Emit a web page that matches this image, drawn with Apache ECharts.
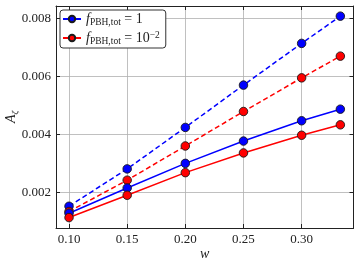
<!DOCTYPE html>
<html><head><meta charset="utf-8">
<script src="https://cdn.jsdelivr.net/npm/echarts@6/dist/echarts.min.js"></script>
<style>html,body{margin:0;padding:0;background:#fff}#c{width:360px;height:266px}</style>
</head><body><div id="c"></div>
<script>
const wValues = [0.10, 0.15, 0.20, 0.25, 0.30, 0.3333];
const blueDashed = [0.00152, 0.00281, 0.00424, 0.00570, 0.00714, 0.00808];
const redDashed  = [0.00134, 0.00242, 0.00360, 0.00479, 0.00595, 0.00670];
const blueSolid  = [0.00128, 0.00215, 0.00300, 0.00377, 0.00447, 0.00487];
const redSolid   = [0.00113, 0.00190, 0.00268, 0.00336, 0.00397, 0.00433];
const legendNames = ['f1', 'f2'];
const legendLabels = {
  f1: '{i|f}{sub|PBH,tot}{t| = 1}',
  f2: '{i|f}{sub|PBH,tot}{t| = 10}{sup|−2}'
};
const xLabel = 'w';

const FONT = 'Liberation Serif';
const BLUE = '#0000ff', RED = '#ff0000', EDGE = '#1a1a1a';
const pairs = arr => arr.map((v, i) => [wValues[i], v]);
const XMIN = 0.0888, XMAX = 0.3446, YMIN = 0.00077, YMAX = 0.00843;

function mk(name, data, color, dashed) {
  return {
    name, type: 'line', data: pairs(data), symbol: 'circle', symbolSize: 8.5,
    lineStyle: { color, width: 1.5, type: dashed ? [5, 3] : 'solid' },
    itemStyle: { color, borderColor: EDGE, borderWidth: 0.9 },
    emphasis: { disabled: true }, animation: false, z: 3
  };
}
const axisCommon = {
  type: 'value',
  axisLine: { show: true, lineStyle: { color: '#222', width: 1 } },
  axisTick: { show: true, inside: true, length: 4, lineStyle: { color: '#222' } },
};
const chart = echarts.init(document.getElementById('c'), null, { renderer: 'canvas' });
chart.setOption({
  backgroundColor: '#fff',
  animation: false,
  grid: { left: 56, right: 6.5, top: 6, bottom: 38, containLabel: false, outerBoundsMode: 'none' },
  legend: {
    data: legendNames, orient: 'vertical', left: 60, top: 10,
    padding: [2, 6, 2, 2], itemGap: 3, itemWidth: 18, itemHeight: 8,
    borderColor: '#333', borderWidth: 1, borderRadius: 3, backgroundColor: '#fff',
    formatter: n => legendLabels[n],
    textStyle: {
      fontFamily: FONT, color: '#222',
      rich: {
        i: { fontFamily: FONT, fontStyle: 'italic', fontSize: 14, color: '#222' },
        t: { fontFamily: FONT, fontSize: 14, color: '#222' },
        sub: { fontFamily: FONT, fontSize: 9.5, color: '#222', verticalAlign: 'bottom', lineHeight: 16 },
        sup: { fontFamily: FONT, fontSize: 9.5, color: '#222', verticalAlign: 'top', lineHeight: 16 }
      }
    }
  },
  xAxis: [
    Object.assign({}, axisCommon, {
      min: XMIN, max: XMAX, position: 'bottom',
      name: xLabel, nameLocation: 'middle', nameGap: 19, nameMoveOverlap: false,
      nameTextStyle: { fontFamily: FONT, fontStyle: 'italic', fontSize: 14, color: '#222' },
      axisLabel: { fontFamily: FONT, fontSize: 13, color: '#222', margin: 5, showMinLabel: false, showMaxLabel: false,
        formatter: v => v.toFixed(2) },
      splitLine: { show: true, lineStyle: { color: '#b0b0b0', width: 0.8 } }
    }),
    Object.assign({}, axisCommon, {
      min: XMIN, max: XMAX, position: 'top', axisLabel: { show: false }, splitLine: { show: false }
    })
  ],
  yAxis: [
    Object.assign({}, axisCommon, {
      min: YMIN, max: YMAX, position: 'left',
      name: '{a|A}{z|ζ}', nameLocation: 'middle', nameGap: 36, nameMoveOverlap: false,
      nameTextStyle: { rich: {
        a: { fontFamily: FONT, fontStyle: 'italic', fontSize: 14, color: '#222' },
        z: { fontFamily: FONT, fontStyle: 'italic', fontSize: 9, color: '#222', verticalAlign: 'bottom', lineHeight: 18 }
      } },
      axisLabel: { fontFamily: FONT, fontSize: 13, color: '#222', margin: 5, showMinLabel: false, showMaxLabel: false,
        formatter: v => v.toFixed(3) },
      splitLine: { show: true, lineStyle: { color: '#b0b0b0', width: 0.8 } }
    }),
    Object.assign({}, axisCommon, {
      min: YMIN, max: YMAX, position: 'right', axisLabel: { show: false }, splitLine: { show: false }
    })
  ],
  series: [
    mk('f1d', blueDashed, BLUE, true),
    mk('f2d', redDashed, RED, true),
    mk('f1', blueSolid, BLUE, false),
    mk('f2', redSolid, RED, false)
  ]
});
</script></body></html>
